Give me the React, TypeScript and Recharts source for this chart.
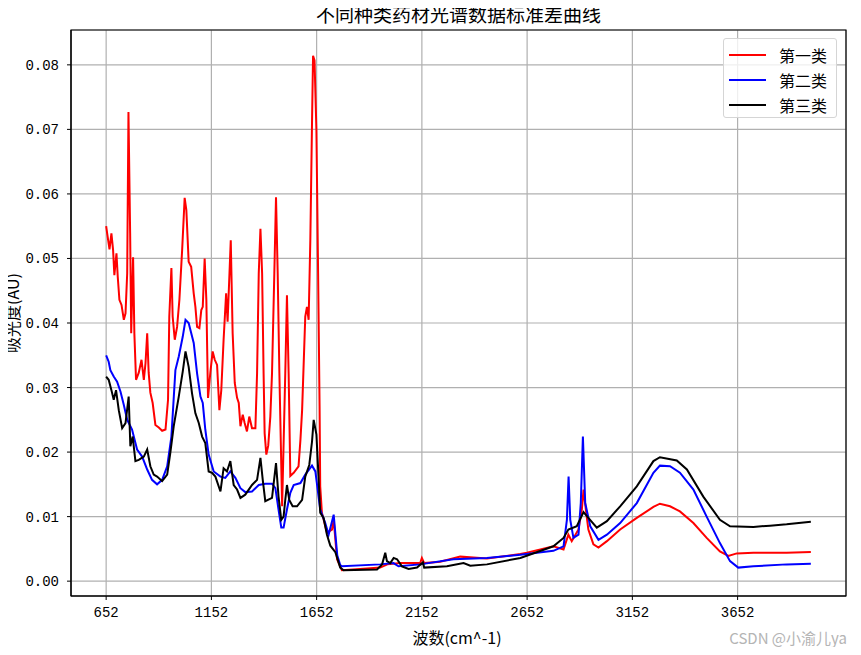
import React from "react";
import {
  LineChart,
  Line,
  XAxis,
  YAxis,
  CartesianGrid,
  ReferenceArea,
} from "recharts";

// 第一类 (red)
const redWave = [
  652, 658, 668, 677, 685, 691, 701, 707, 715, 725, 736, 744, 752, 758, 766, 771, 780, 786, 794, 807,
  820, 831, 839, 847, 854, 862, 873, 886, 902, 918, 934, 946, 952, 962, 968, 978, 989, 1000, 1013, 1025,
  1033, 1044, 1056, 1068, 1076, 1084, 1095, 1104, 1111, 1120, 1128, 1136, 1147, 1158, 1168, 1179, 1190, 1199, 1210, 1222,
  1229, 1244, 1253, 1263, 1274, 1282, 1290, 1301, 1310, 1321, 1332, 1345, 1361, 1369, 1377, 1385, 1393, 1400, 1405, 1413,
  1422, 1432, 1440, 1451, 1459, 1467, 1475, 1488, 1503, 1511, 1519, 1527, 1543, 1566, 1575, 1583, 1598, 1606, 1614, 1622,
  1630, 1635, 1642, 1651, 1659, 1666, 1669, 1677, 1701, 1725, 1733, 1749, 1772, 1859, 1954, 1988, 2049, 2144, 2152, 2163,
  2239, 2334, 2461, 2620, 2651, 2777, 2825, 2848, 2864, 2896, 2912, 2920, 2931, 2943, 2967, 2991, 3031, 3094, 3173, 3252,
  3283, 3331, 3378, 3442, 3505, 3568, 3608, 3648, 3727, 3885, 4000,
];
const redAbs = [
  0.055, 0.0536, 0.0514, 0.0539, 0.0513, 0.0474, 0.0508, 0.0472, 0.0436, 0.0428, 0.0405, 0.0415, 0.0477, 0.0727, 0.0539, 0.0384, 0.0502, 0.0384, 0.0312, 0.0323,
  0.0343, 0.0312, 0.0338, 0.0384, 0.0323, 0.0292, 0.0276, 0.0242, 0.0238, 0.0233, 0.0235, 0.0281, 0.041, 0.0485, 0.041, 0.0374, 0.0394, 0.0436, 0.0513, 0.0594,
  0.0575, 0.0495, 0.0487, 0.0446, 0.0425, 0.0394, 0.0392, 0.042, 0.0425, 0.05, 0.0436, 0.0284, 0.0323, 0.0356, 0.0343, 0.0335, 0.0265, 0.0296, 0.0374, 0.0446,
  0.0402, 0.0528, 0.0384, 0.0307, 0.0284, 0.0276, 0.024, 0.0258, 0.0245, 0.0232, 0.0255, 0.0237, 0.0237, 0.0322, 0.0477, 0.0546, 0.0477, 0.0322, 0.0229, 0.0196,
  0.021, 0.0255, 0.0322, 0.0477, 0.0595, 0.0477, 0.0322, 0.0116, 0.0322, 0.0443, 0.0322, 0.0163, 0.0168, 0.0178, 0.0219, 0.0265, 0.041, 0.0425, 0.0405, 0.0528,
  0.0709, 0.0814, 0.0807, 0.0698, 0.0477, 0.0271, 0.0147, 0.0106, 0.0075, 0.008, 0.0095, 0.0034, 0.0017, 0.0019, 0.0021, 0.0026, 0.0028, 0.0028, 0.0036, 0.0028,
  0.003, 0.0038, 0.0035, 0.0042, 0.0044, 0.0054, 0.0049, 0.0072, 0.0062, 0.008, 0.0111, 0.0142, 0.0111, 0.008, 0.0057, 0.0052, 0.0062, 0.008, 0.0098, 0.0115,
  0.012, 0.0116, 0.0108, 0.009, 0.0067, 0.0046, 0.0039, 0.0043, 0.0044, 0.0044, 0.0045,
];

// 第二类 (blue)
const blueWave = [
  652, 664, 672, 688, 704, 720, 736, 752, 775, 799, 823, 847, 870, 894, 918, 942, 962, 981, 997, 1016,
  1029, 1044, 1068, 1084, 1100, 1111, 1123, 1139, 1163, 1195, 1218, 1242, 1266, 1290, 1313, 1345, 1377, 1408, 1440, 1456,
  1471, 1484, 1495, 1511, 1527, 1543, 1575, 1598, 1630, 1646, 1669, 1693, 1709, 1733, 1750, 1764, 1772, 1954, 2017, 2041,
  2144, 2302, 2461, 2620, 2777, 2825, 2841, 2849, 2857, 2872, 2896, 2907, 2917, 2928, 2952, 2991, 3031, 3094, 3173, 3252,
  3283, 3331, 3378, 3442, 3505, 3568, 3616, 3655, 3727, 3885, 4000,
];
const blueAbs = [
  0.035, 0.034, 0.0327, 0.0317, 0.0309, 0.0294, 0.0273, 0.025, 0.0235, 0.0204, 0.0193, 0.0173, 0.0157, 0.015, 0.0157, 0.0178, 0.0224, 0.0327, 0.0348, 0.0379,
  0.0405, 0.04, 0.0369, 0.0322, 0.0286, 0.0276, 0.0235, 0.0196, 0.017, 0.0162, 0.016, 0.017, 0.016, 0.0144, 0.0138, 0.0139, 0.0149, 0.0151, 0.0151, 0.0144,
  0.0111, 0.0083, 0.0083, 0.0111, 0.0137, 0.0149, 0.0152, 0.0165, 0.0179, 0.017, 0.0111, 0.009, 0.0072, 0.0103, 0.004, 0.0025, 0.0023, 0.0026, 0.0028, 0.0023,
  0.0026, 0.0034, 0.0036, 0.0041, 0.0047, 0.0054, 0.0095, 0.0162, 0.0095, 0.0067, 0.0072, 0.0121, 0.0224, 0.0121, 0.0085, 0.0064, 0.0072, 0.009, 0.0121, 0.0168,
  0.0179, 0.0178, 0.0168, 0.0142, 0.01, 0.0059, 0.0031, 0.0021, 0.0023, 0.0026, 0.0027,
];

// 第三类 (black)
const blackWave = [
  652, 664, 677, 688, 699, 712, 728, 744, 759, 767, 778, 791, 807, 831, 847, 862, 878, 894, 918, 942,
  957, 973, 997, 1016, 1029, 1044, 1060, 1076, 1092, 1108, 1123, 1139, 1155, 1171, 1195, 1210, 1226, 1242, 1258, 1274,
  1290, 1313, 1345, 1369, 1385, 1396, 1408, 1440, 1459, 1471, 1484, 1495, 1503, 1511, 1522, 1538, 1559, 1583, 1598, 1617,
  1630, 1638, 1651, 1661, 1669, 1685, 1701, 1717, 1741, 1764, 1780, 1939, 1963, 1978, 1986, 2002, 2018, 2034, 2057, 2089,
  2129, 2157, 2163, 2271, 2350, 2382, 2461, 2620, 2777, 2825, 2848, 2888, 2920, 2943, 2983, 3031, 3094, 3173, 3252, 3283,
  3363, 3411, 3489, 3568, 3616, 3727, 3806, 3885, 4000,
];
const blackAbs = [
  0.0317, 0.0312, 0.0296, 0.0281, 0.0296, 0.0265, 0.0237, 0.0245, 0.0286, 0.0209, 0.0224, 0.0186, 0.0188, 0.0193, 0.0204, 0.0178, 0.0165, 0.0162, 0.0155, 0.0165,
  0.0199, 0.024, 0.0286, 0.0325, 0.0356, 0.0332, 0.0291, 0.026, 0.0245, 0.0224, 0.0214, 0.017, 0.0168, 0.0162, 0.0139, 0.0175, 0.017, 0.0186, 0.0149, 0.0142,
  0.0129, 0.0134, 0.0149, 0.0157, 0.0191, 0.0157, 0.0124, 0.0129, 0.0183, 0.0131, 0.0095, 0.01, 0.0126, 0.0149, 0.0126, 0.0116, 0.0116, 0.0126, 0.0162, 0.018,
  0.0216, 0.025, 0.0227, 0.0162, 0.0106, 0.0098, 0.0072, 0.0055, 0.0045, 0.0021, 0.0017, 0.0018, 0.0026, 0.0044, 0.0031, 0.0028, 0.0036, 0.0034, 0.0023, 0.0019,
  0.0021, 0.0029, 0.0021, 0.0023, 0.0028, 0.0024, 0.0026, 0.0036, 0.0054, 0.0067, 0.008, 0.0085, 0.0107, 0.0098, 0.0083, 0.0093, 0.0116, 0.0147, 0.0186, 0.0192,
  0.0187, 0.0173, 0.0131, 0.0095, 0.0085, 0.0084, 0.0086, 0.0088, 0.0092,
];

const xTicks = [652, 1152, 1652, 2152, 2652, 3152, 3652];
const yTicks = [0, 0.01, 0.02, 0.03, 0.04, 0.05, 0.06, 0.07, 0.08];
const seriesNames = ["第一类", "第二类", "第三类"];
const seriesColors = ["#ff0000", "#0000ff", "#000000"];

const X_DOMAIN = [485, 4167];
const Y_DOMAIN = [-0.0023, 0.0854];

const toPoints = (xs: number[], ys: number[]) => xs.map((x, i) => ({ x, y: ys[i] }));

const series = [
  toPoints(redWave, redAbs),
  toPoints(blueWave, blueAbs),
  toPoints(blackWave, blackAbs),
];

const FONT = '"Noto Sans CJK SC", "DejaVu Sans", sans-serif';
const TICK_FONT = '"Liberation Mono", "DejaVu Sans Mono", monospace';

export default function App() {
  return (
    <div
      style={{
        position: "relative",
        width: 861,
        height: 655,
        margin: -8,
        background: "#fff",
        fontFamily: FONT,
      }}
    >
      <div
        style={{
          position: "absolute",
          top: 1,
          left: 71,
          width: 775,
          height: 26,
          lineHeight: "26px",
          textAlign: "center",
          fontSize: 19,
          color: "#000",
        }}
      >
        不同种类药材光谱数据标准差曲线
      </div>

      <LineChart
        width={861}
        height={655}
        margin={{ top: 30, right: 15, left: 0, bottom: 29 }}
      >
        <CartesianGrid stroke="#b0b0b0" strokeWidth={1.2} />
        <XAxis
          type="number"
          dataKey="x"
          domain={X_DOMAIN}
          ticks={xTicks}
          allowDataOverflow
          height={30}
          stroke="#000"
          tickSize={4}
          tickMargin={7}
          tick={{ fill: "#000", fontSize: 14, fontFamily: TICK_FONT }}
        />
        <YAxis
          type="number"
          dataKey="y"
          domain={Y_DOMAIN}
          ticks={yTicks}
          allowDataOverflow
          width={71}
          stroke="#000"
          tickSize={4}
          tickMargin={8}
          tickFormatter={(v: number) => v.toFixed(2)}
          tick={{ fill: "#000", fontSize: 14, fontFamily: TICK_FONT }}
        />
        {series.map((data, i) => (
          <Line
            key={seriesNames[i]}
            data={data}
            dataKey="y"
            name={seriesNames[i]}
            type="linear"
            stroke={seriesColors[i]}
            strokeWidth={2}
            dot={false}
            activeDot={false}
            isAnimationActive={false}
          />
        ))}
        <ReferenceArea
          x1={X_DOMAIN[0]}
          x2={X_DOMAIN[1]}
          y1={Y_DOMAIN[0]}
          y2={Y_DOMAIN[1]}
          fill="none"
          stroke="#000"
          strokeWidth={1.2}
          ifOverflow="visible"
        />
      </LineChart>

      <div
        style={{
          position: "absolute",
          left: 723,
          top: 38,
          width: 114,
          height: 80,
          boxSizing: "border-box",
          border: "1px solid #d5d5d5",
          borderRadius: 3,
          background: "rgba(255,255,255,0.8)",
          paddingTop: 3,
        }}
      >
        {seriesNames.map((name, i) => (
          <div
            key={name}
            style={{ display: "flex", alignItems: "center", height: 25 }}
          >
            <span
              style={{
                display: "inline-block",
                marginLeft: 5,
                width: 37,
                height: 2,
                background: seriesColors[i],
              }}
            />
            <span style={{ marginLeft: 13, fontSize: 16, color: "#000" }}>{name}</span>
          </div>
        ))}
      </div>

      <div
        style={{
          position: "absolute",
          left: 12,
          top: 313,
          transform: "translate(-50%, -50%) rotate(-90deg)",
          fontSize: 16,
          whiteSpace: "nowrap",
          color: "#000",
        }}
      >
        吸光度(AU)
      </div>
      <div
        style={{
          position: "absolute",
          left: 457,
          top: 637,
          transform: "translate(-50%, -50%)",
          fontSize: 16,
          whiteSpace: "nowrap",
          color: "#000",
        }}
      >
        波数(cm^-1)
      </div>
      <div
        style={{
          position: "absolute",
          right: 14,
          top: 637,
          transform: "translate(0, -50%)",
          fontSize: 15,
          whiteSpace: "nowrap",
          color: "#b4b4b4",
        }}
      >
        CSDN @小渝儿ya
      </div>
    </div>
  );
}
